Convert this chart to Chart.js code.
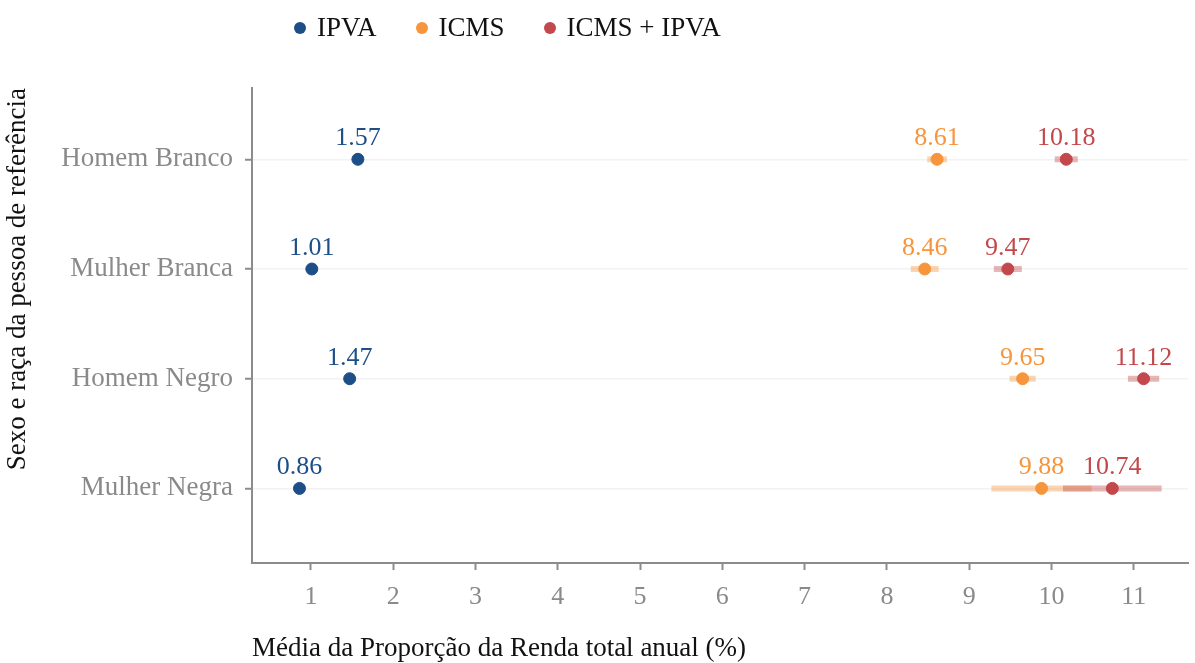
<!DOCTYPE html>
<html>
<head>
<meta charset="utf-8">
<script src="https://cdn.jsdelivr.net/npm/chart.js@4"></script>
<style>
  body { margin: 0; background: #fff; }
  #wrap { position: relative; width: 1195px; height: 663px; }
  #legend { position: absolute; left: 294px; top: 12px; display: flex; align-items: center;
            font-family: 'Liberation Serif', serif; font-size: 27px; color: #111; }
  .item { display: flex; align-items: center; margin-right: 39px; }
  .dot { width: 12px; height: 12px; border-radius: 50%; margin-right: 11px; }
</style>
</head>
<body>
<div id="wrap">
  <canvas id="chart" width="1195" height="663"></canvas>
  <div id="legend"></div>
</div>
<script>
const categories = ["Homem Branco", "Mulher Branca", "Homem Negro", "Mulher Negra"];
const seriesNames = ["IPVA", "ICMS", "ICMS + IPVA"];
const ipva = [1.57, 1.01, 1.47, 0.86];
const icms = [8.61, 8.46, 9.65, 9.88];
const icmsIpva = [10.18, 9.47, 11.12, 10.74];
// half-width of the interval bars
const ipvaErr = [0.02, 0.02, 0.02, 0.03];
const icmsErr = [0.12, 0.17, 0.16, 0.61];
const icmsIpvaErr = [0.14, 0.17, 0.19, 0.60];
const xTicks = [1, 2, 3, 4, 5, 6, 7, 8, 9, 10, 11];
const yTitle = "Sexo e raça da pessoa de referência";

const colors = ["#1c4e88", "#f6953c", "#c3484b"];
const errColors = ["rgba(28,78,136,0.35)", "rgba(246,149,60,0.4)", "rgba(195,72,75,0.4)"];
const values = [ipva, icms, icmsIpva];
const errors = [ipvaErr, icmsErr, icmsIpvaErr];

// legend (html)
const legend = document.getElementById("legend");
seriesNames.forEach((name, i) => {
  const it = document.createElement("div");
  it.className = "item";
  it.innerHTML = '<span class="dot" style="background:' + colors[i] + '"></span><span>' + name + '</span>';
  legend.appendChild(it);
});

Chart.defaults.font.family = "'Liberation Serif', serif";

const errorAndLabels = {
  id: "errorAndLabels",
  beforeDatasetsDraw(chart) {
    const { ctx, scales: { x, y } } = chart;
    ctx.save();
    ctx.lineWidth = 6;
    ctx.lineCap = "butt";
    values.forEach((vals, s) => {
      vals.forEach((v, i) => {
        const e = errors[s][i];
        const py = y.getPixelForValue(i + 1);
        ctx.strokeStyle = errColors[s];
        ctx.beginPath();
        ctx.moveTo(x.getPixelForValue(v - e), py);
        ctx.lineTo(x.getPixelForValue(v + e), py);
        ctx.stroke();
      });
    });
    ctx.restore();
  },
  afterDatasetsDraw(chart) {
    const { ctx, chartArea, scales: { x, y } } = chart;
    ctx.save();
    ctx.font = "26px 'Liberation Serif', serif";
    ctx.textAlign = "center";
    ctx.textBaseline = "alphabetic";
    values.forEach((vals, s) => {
      ctx.fillStyle = colors[s];
      vals.forEach((v, i) => {
        ctx.fillText(v.toFixed(2), x.getPixelForValue(v), y.getPixelForValue(i + 1) - 14);
      });
    });
    // y axis title, top-aligned with the plot
    ctx.translate(18, chartArea.top);
    ctx.rotate(-Math.PI / 2);
    ctx.font = "27px 'Liberation Serif', serif";
    ctx.fillStyle = "#111";
    ctx.textAlign = "right";
    ctx.textBaseline = "middle";
    ctx.fillText(yTitle, 0, 0);
    ctx.restore();
  }
};

new Chart(document.getElementById("chart"), {
  type: "scatter",
  data: {
    datasets: values.map((vals, s) => ({
      label: seriesNames[s],
      data: vals.map((v, i) => ({ x: v, y: i + 1 })),
      backgroundColor: colors[s],
      borderColor: colors[s],
      pointRadius: 6,
      pointHoverRadius: 6
    }))
  },
  options: {
    responsive: false,
    animation: false,
    layout: { padding: { top: 88, right: 0, bottom: 0, left: 0 } },
    plugins: { legend: { display: false }, tooltip: { enabled: false } },
    scales: {
      x: {
        type: "linear",
        min: 0.283,
        max: 11.66,
        afterBuildTicks: (s) => { s.ticks = xTicks.map(v => ({ value: v })); },
        afterFit: (s) => { s.height = 100; },
        border: { color: "#8c8c8c", width: 2 },
        grid: { drawOnChartArea: false, tickColor: "#8c8c8c", tickLength: 7, tickWidth: 2 },
        ticks: { color: "#8a8a8a", font: { size: 26 }, padding: 12, maxRotation: 0 },
        title: {
          display: true, align: "start", color: "#111",
          text: "Média da Proporção da Renda total anual (%)",
          font: { size: 27, lineHeight: 1.05 }, padding: { top: 0, bottom: 0 }
        }
      },
      y: {
        type: "linear",
        reverse: true,
        min: 0.35,
        max: 4.68,
        afterBuildTicks: (s) => { s.ticks = categories.map((c, i) => ({ value: i + 1 })); },
        afterFit: (s) => { s.width = 252; },
        border: { color: "#8c8c8c", width: 2 },
        grid: { color: "#f2f2f2", lineWidth: 1.5, tickColor: "#8c8c8c", tickLength: 7, tickWidth: 2 },
        ticks: { color: "#8a8a8a", font: { size: 27 }, padding: 12,
                 callback: (v) => categories[v - 1] }
      }
    }
  },
  plugins: [errorAndLabels]
});
</script>
</body>
</html>
